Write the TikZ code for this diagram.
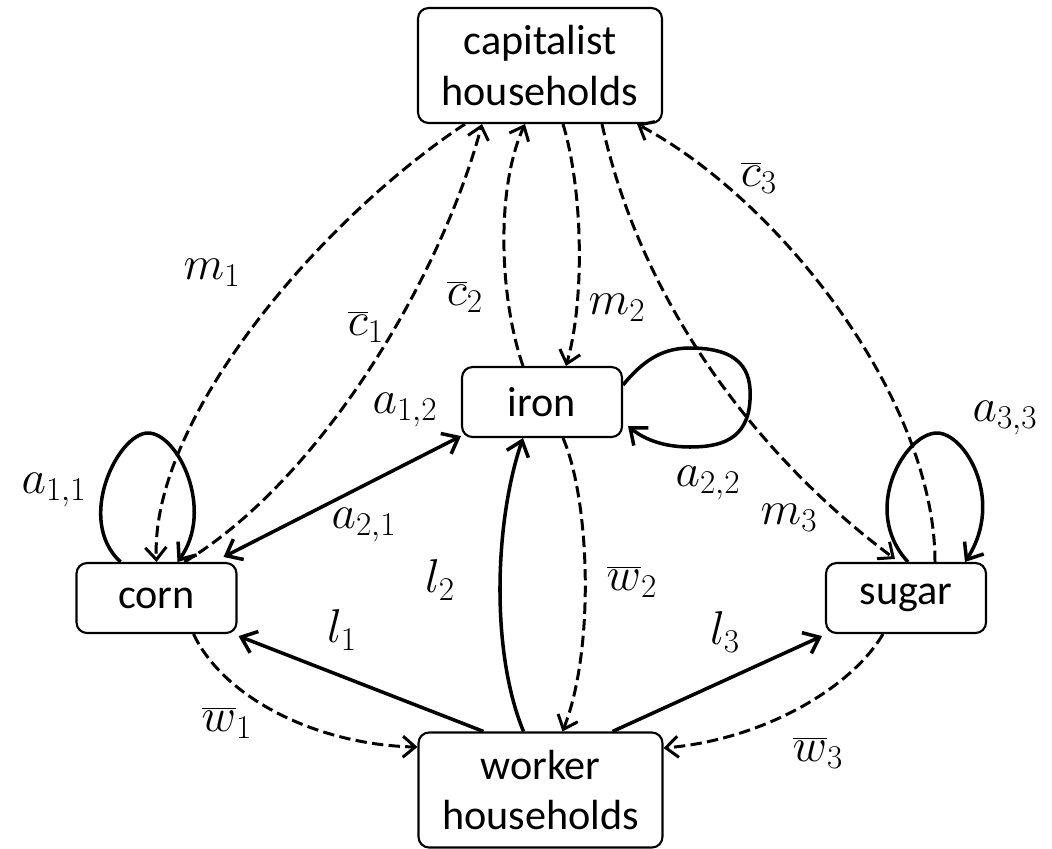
\documentclass[tikz,border=0pt]{standalone}
\usepackage{fix-cm}
\usepackage{fontspec}
\setmainfont{Carlito}
\usetikzlibrary{arrows.meta,calc}
\tikzset{
  sector/.style={draw, line width=1.2pt, rounded corners=6pt, minimum width=3.2cm, minimum height=1.4cm,
    inner sep=2pt, align=center, font=\fontsize{24}{28.5}\selectfont},
  household/.style={sector, minimum width=4.88cm, minimum height=2.3cm},
  goods/.style={line width=2pt, -{Straight Barb[length=8pt,width=13pt]}},
  twoway/.style={line width=2pt, {Straight Barb[length=8pt,width=13pt]}-{Straight Barb[length=8pt,width=13pt]}},
  money/.style={line width=1.7pt, dash pattern=on 6.5pt off 3pt, -{Straight Barb[length=7pt,width=12pt]}},
  coef/.style={inner sep=1pt, font=\fontsize{27}{32}\selectfont}
}
\begin{document}
\begin{tikzpicture}
% one unit = one pixel of the 1052x849 sketch, y pointing down
\def\px{0.02cm}
\begin{scope}[x=\px, y=-\px, line cap=butt, line join=round]
  \useasboundingbox (0,0) rectangle (1052,849);
  % Sectors and households
  \node[household] (cap) at (540,65.5) {capitalist\\households};
  \node[sector] (iron) at (542,402) {iron};
  \node[sector] (corn) at (156.5,598) {corn};
  \node[sector] (sugar) at (906,598) {sugar};
  \node[household] (work) at (540.5,790) {worker\\households};
  % Money flows between capitalists and sectors
  \draw[money] ($(cap.south)+(-75,0)$) .. controls (320,220) and (150,420) .. (corn.north);
  \draw[money] ($(corn.north)+(28,0)$) .. controls (320,480) and (440,280) .. ($(cap.south)+(-58,0)$);
  \draw[money] ($(iron.north)+(-19,0)$) .. controls (500,300) and (495,190) .. ($(cap.south)+(-15,0)$);
  \draw[money] ($(cap.south)+(23,0)$) .. controls (583,190) and (585,300) .. ($(iron.north)+(24,0)$);
  \draw[money] ($(cap.south)+(62,0)$) .. controls (645,320) and (775,470) .. ($(sugar.north)+(-11,-3)$);
  \draw[money] ($(sugar.north)+(29,0)$) .. controls (935,400) and (780,200) .. ($(cap.south)+(97,0)$);
  % Money flows between sectors and workers
  \draw[money] ($(corn.south)+(37,0)$) .. controls (225,700) and (320,745) .. ($(work.west)+(0,-43)$);
  \draw[money] ($(iron.south)+(21,0)$) .. controls (590,500) and (595,650) .. ($(work.north)+(22,0)$);
  \draw[money] ($(sugar.south)+(-23,0)$) .. controls (850,690) and (760,740) .. ($(work.east)+(0,-42)$);
  % Input coefficients
  \draw[goods] ($(corn.north)+(-36,0)$) .. controls (75,520) and (118,433) .. (148,433)
    .. controls (178,433) and (215,510) .. ($(corn.north)+(21,0)$);
  \draw[goods] ($(iron.east)+(0,-17)$) .. controls (645,358) and (665,348) .. (690,348)
    .. controls (740,348) and (752,370) .. (750,400)
    .. controls (748,440) and (720,447) .. (690,447)
    .. controls (665,447) and (645,440) .. ($(iron.south east)+(5,-12)$);
  \draw[goods] ($(sugar.north)+(2,0)$) .. controls (860,510) and (905,433) .. (937,433)
    .. controls (965,433) and (1005,500) .. ($(sugar.north)+(59,0)$);
  \draw[twoway] ($(corn.north east)+(-14,-5)$) -- ($(iron.south west)+(0,-2)$);
  % Labour inputs
  \draw[goods] ($(work.north)+(-57,0)$) -- ($(corn.south east)+(1,2)$);
  \draw[goods] ($(work.north)+(-17,0)$) .. controls (490,650) and (495,520) .. ($(iron.south)+(-19,0)$);
  \draw[goods] ($(work.north)+(72,0)$) -- ($(sugar.south west)+(-3,2)$);
  % Labels
  \node[coef] (lm1) at (212,273) {$m_1$};
  \node[coef] (lc1) at (366,327) {$\overline{c}_1$};
  \node[coef] (lc2) at (465,297) {$\overline{c}_2$};
  \node[coef] (lm2) at (617,308) {$m_2$};
  \node[coef] (lc3) at (759,178) {$\overline{c}_3$};
  \node[coef] (la12) at (405,410) {$a_{1,2}$};
  \node[coef] (la11) at (54,490) {$a_{1,1}$};
  \node[coef] (la21) at (364,525) {$a_{2,1}$};
  \node[coef] (la22) at (708,483) {$a_{2,2}$};
  \node[coef] (lm3) at (789,518) {$m_3$};
  \node[coef] (la33) at (1005,418) {$a_{3,3}$};
  \node[coef] (ll2) at (440,580) {$l_2$};
  \node[coef] (lw2) at (632,582) {$\overline{w}_2$};
  \node[coef] (ll1) at (342,630) {$l_1$};
  \node[coef] (ll3) at (725,632) {$l_3$};
  \node[coef] (lw1) at (227,723) {$\overline{w}_1$};
  \node[coef] (lw3) at (818,753) {$\overline{w}_3$};
\end{scope}
\end{tikzpicture}
\end{document}
